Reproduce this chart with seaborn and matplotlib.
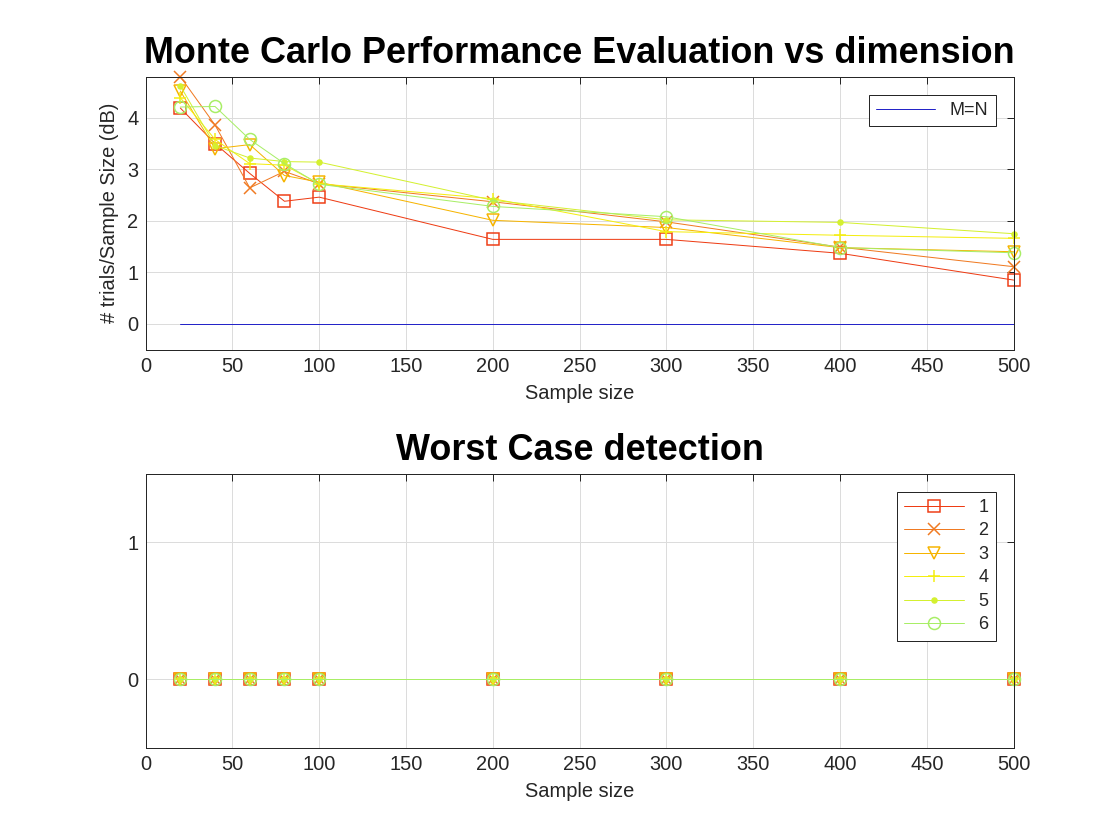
import numpy as np
import pandas as pd
import matplotlib
matplotlib.use("Agg")
import matplotlib.pyplot as plt
import seaborn as sns

# Datos
sample_size = [20, 40, 60, 80, 100, 200, 300, 400, 500]

perf_1 = [4.19, 3.50, 2.92, 2.38, 2.46, 1.64, 1.64, 1.37, 0.85]
perf_2 = [4.80, 3.86, 2.64, 2.96, 2.72, 2.37, 1.98, 1.49, 1.11]
perf_3 = [4.52, 3.40, 3.48, 2.88, 2.75, 2.01, 1.87, 1.48, 1.40]
perf_4 = [4.39, 3.58, 3.11, 3.08, 2.72, 2.43, 1.79, 1.72, 1.66]
perf_5 = [4.62, 3.46, 3.22, 3.15, 3.14, 2.40, 2.02, 1.97, 1.75]
perf_6 = [4.21, 4.22, 3.58, 3.11, 2.71, 2.28, 2.08, 1.48, 1.38]
perf_series = [perf_1, perf_2, perf_3, perf_4, perf_5, perf_6]

ref_x = [20, 500]
ref_y = [0, 0]

worst_case = [0, 0, 0, 0, 0, 0, 0, 0, 0]

series_labels = ["1", "2", "3", "4", "5", "6"]
series_colors = ["#ee3c14", "#f07a22", "#f6b400", "#f4ee10", "#d4f030", "#a8ee66"]
series_markers = ["s", "x", "v", "+", ".", "o"]

sns.set_style("white")
plt.rcParams["font.family"] = ["Liberation Sans", "DejaVu Sans"]

fig = plt.figure(figsize=(1120 / 144, 840 / 144), dpi=144)
ax1 = fig.add_axes([0.13, 0.5838, 0.775, 0.325])
ax2 = fig.add_axes([0.13, 0.11, 0.775, 0.326])


def style_axes(ax):
    ax.grid(True, color="#dcdcdc", linewidth=0.5)
    ax.set_axisbelow(True)
    for sp in ax.spines.values():
        sp.set_color("#262626")
        sp.set_linewidth(0.5)
        sp.set_visible(True)
    ax.tick_params(direction="in", length=3.5, width=0.5, colors="#262626",
                   labelsize=10, top=True, right=True, labelcolor="#262626")
    ax.set_xlim(0, 500)
    ax.set_xticks(np.arange(0, 501, 50))


def series_lines(ax, values):
    for vals, lab, col, mk in zip(values, series_labels, series_colors, series_markers):
        df = pd.DataFrame({"x": sample_size, "y": vals})
        filled = mk in ["s", "v", "o"]
        sns.lineplot(data=df, x="x", y="y", ax=ax, color=col, marker=mk,
                     markersize=6 if mk != "." else 5, linewidth=0.5,
                     markerfacecolor="none" if filled else col,
                     markeredgecolor=col, markeredgewidth=0.75,
                     label=lab, legend=False, clip_on=False)


# Panel superior: rendimiento
sns.lineplot(x=ref_x, y=ref_y, ax=ax1, color="#2424c8", linewidth=0.5, label="M=N", legend=False)
series_lines(ax1, perf_series)
style_axes(ax1)
ax1.set_ylim(-0.5, 4.8)
ax1.set_yticks([0, 1, 2, 3, 4])
ax1.set_title("Monte Carlo Performance Evaluation vs dimension", fontsize=18,
              fontweight="bold", pad=7, color="black")
ax1.set_xlabel("Sample size", fontsize=10, color="#262626")
ax1.set_ylabel("# trials/Sample Size (dB)", fontsize=10, color="#262626")
h, l = ax1.get_legend_handles_labels()
ax1.legend(h[:1], l[:1], loc="upper right", fontsize=9, fancybox=False,
           edgecolor="#262626", framealpha=1, handlelength=3.3, borderaxespad=1.0,
           borderpad=0.4).get_frame().set_linewidth(0.5)

# Panel inferior: detección del peor caso
series_lines(ax2, [worst_case] * 6)
style_axes(ax2)
ax2.set_ylim(-0.5, 1.5)
ax2.set_yticks([0, 1])
ax2.set_title("Worst Case detection", fontsize=18, fontweight="bold", pad=7, color="black")
ax2.set_xlabel("Sample size", fontsize=10, color="#262626")
ax2.set_ylabel("")
ax2.legend(loc="upper right", fontsize=9, fancybox=False, edgecolor="#262626",
           framealpha=1, handlelength=3.3, borderaxespad=1.0, labelspacing=0.36,
           borderpad=0.4).get_frame().set_linewidth(0.5)

fig.savefig("out.png", dpi=144)
